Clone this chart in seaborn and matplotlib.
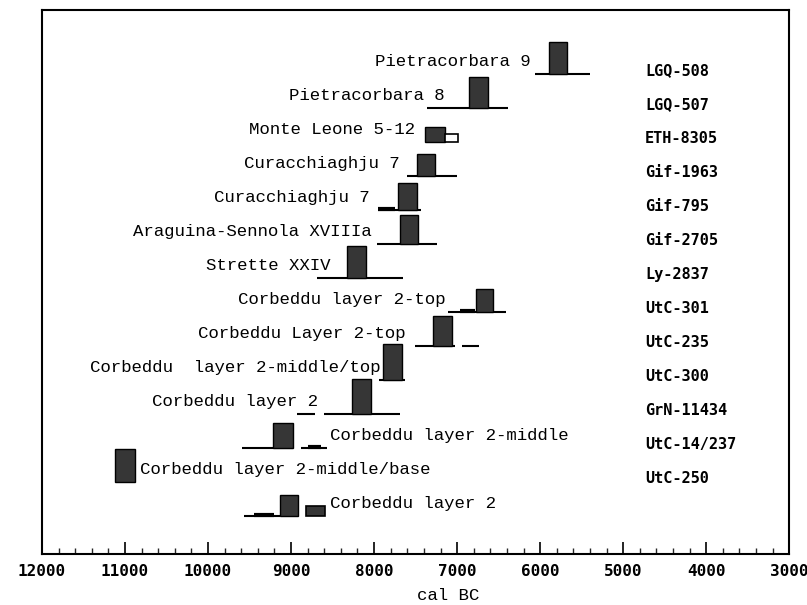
import matplotlib
matplotlib.use("Agg")
import matplotlib.pyplot as plt
import matplotlib.transforms as mtransforms
from matplotlib.ticker import MultipleLocator
import seaborn as sns

# ----------------------------
# DATA (cal BC)
# ----------------------------
labels = [
    "Pietracorbara 9", "Pietracorbara 8", "Monte Leone 5-12", "Curacchiaghju 7",
    "Curacchiaghju 7", "Araguina-Sennola XVIIIa", "Strette XXIV",
    "Corbeddu layer 2-top", "Corbeddu Layer 2-top", "Corbeddu  layer 2-middle/top",
    "Corbeddu layer 2", "Corbeddu layer 2-middle", "Corbeddu layer 2-middle/base",
    "Corbeddu layer 2",
]
lab_codes = [
    "LGQ-508", "LGQ-507", "ETH-8305", "Gif-1963", "Gif-795", "Gif-2705", "Ly-2837",
    "UtC-301", "UtC-235", "UtC-300", "GrN-11434", "UtC-14/237", "UtC-250", "",
]

# 1-sigma boxes
box_start = [5892, 6855, 7386, 7482, 7711, 7687, 8325, 6771, 7289, 7892, 8265, 9217, 11120, 9133]
box_end = [5675, 6627, 7145, 7265, 7482, 7470, 8096, 6566, 7060, 7663, 8036, 8976, 10880, 8916]
box_height = [0.94, 0.91, 0.44, 0.65, 0.79, 0.85, 0.94, 0.68, 0.88, 1.06, 1.03, 0.74, 0.97, 0.62]

# secondary small boxes: (row, start, end, height, filled)
extra_boxes = [(2, 7145, 6988, 0.24, False), (13, 8819, 8590, 0.30, True)]

# 2-sigma ranges: (row, start, end)
ranges = [
    (0, 6060, 5400), (1, 7361, 6386), (3, 7602, 7000), (4, 7952, 7434),
    (5, 7964, 7241), (6, 8687, 7651), (7, 7108, 6410), (8, 7506, 7024),
    (8, 6940, 6735), (9, 7940, 7627), (10, 8928, 8711), (10, 8602, 7687),
    (11, 9590, 8976), (11, 8880, 8566), (13, 9566, 9133),
]
# heavier parts of the 2-sigma ranges
thick_parts = [(4, 7952, 7750), (7, 6960, 6790), (11, 8800, 8640), (13, 9450, 9200)]

# ----------------------------
# LAYOUT
# ----------------------------
label_x = [6120, 7145, 7506, 7687, 8048, 8024, 8530, 7145, 7627, 7928, 8675, 8530, 10819, 8530]
label_side = ["r"] * 11 + ["l", "l", "l"]

sns.set_theme(style="white")
plt.rcParams["font.family"] = ["Liberation Mono", "DejaVu Sans Mono"]

fig = plt.figure(figsize=(8.07, 6.05), dpi=100)
ax = fig.add_axes([0.052, 0.0843, 0.926, 0.899])

n = len(labels)
for i in range(n):
    ax.barh(i - box_height[i], box_end[i] - box_start[i], height=box_height[i],
            left=box_start[i], align="edge", color="#363636", edgecolor="black",
            linewidth=1.0, zorder=3)

for row, s, e, h, filled in extra_boxes:
    ax.barh(row - h, e - s, height=h, left=s, align="edge",
            color="#363636" if filled else "white", edgecolor="black",
            linewidth=1.2, zorder=3)

for row, s, e in ranges:
    ax.hlines(row, s, e, color="black", linewidth=1.5, zorder=2)
for row, s, e in thick_parts:
    ax.hlines(row - 0.03, s, e, color="black", linewidth=3.0, zorder=2)

trans = mtransforms.blended_transform_factory(ax.transAxes, ax.transData)
for i in range(n):
    ha = "right" if label_side[i] == "r" else "left"
    ax.text(label_x[i], i - 0.38, labels[i], ha=ha, va="center",
            fontsize=12.5, color="black")
    if lab_codes[i]:
        ax.text(0.807, i - 0.1, lab_codes[i], transform=trans, ha="left",
                va="center", fontsize=11, fontweight="bold",
                family="DejaVu Sans Mono", color="black")

ax.set_xlim(12000, 3000)
ax.set_ylim(14.12, -1.88)
ax.set_yticks([])
ax.xaxis.set_major_locator(MultipleLocator(1000))
ax.xaxis.set_minor_locator(MultipleLocator(200))
ax.tick_params(axis="x", which="major", direction="in", length=9, width=1.2,
               bottom=True, top=False, pad=7, labelsize=11.5, colors="black")
ax.tick_params(axis="x", which="minor", direction="in", length=4.5, width=1.0,
               bottom=True, top=False)
for lbl in ax.get_xticklabels():
    lbl.set_family("DejaVu Sans Mono")
    lbl.set_fontweight("bold")

for sp in ax.spines.values():
    sp.set_visible(True)
    sp.set_color("black")
    sp.set_linewidth(1.5)

ax.set_xlabel("cal BC", fontsize=12.5, color="black")
ax.xaxis.set_label_coords(0.543, -0.062)

fig.savefig("out.png", dpi=100, facecolor="white")
